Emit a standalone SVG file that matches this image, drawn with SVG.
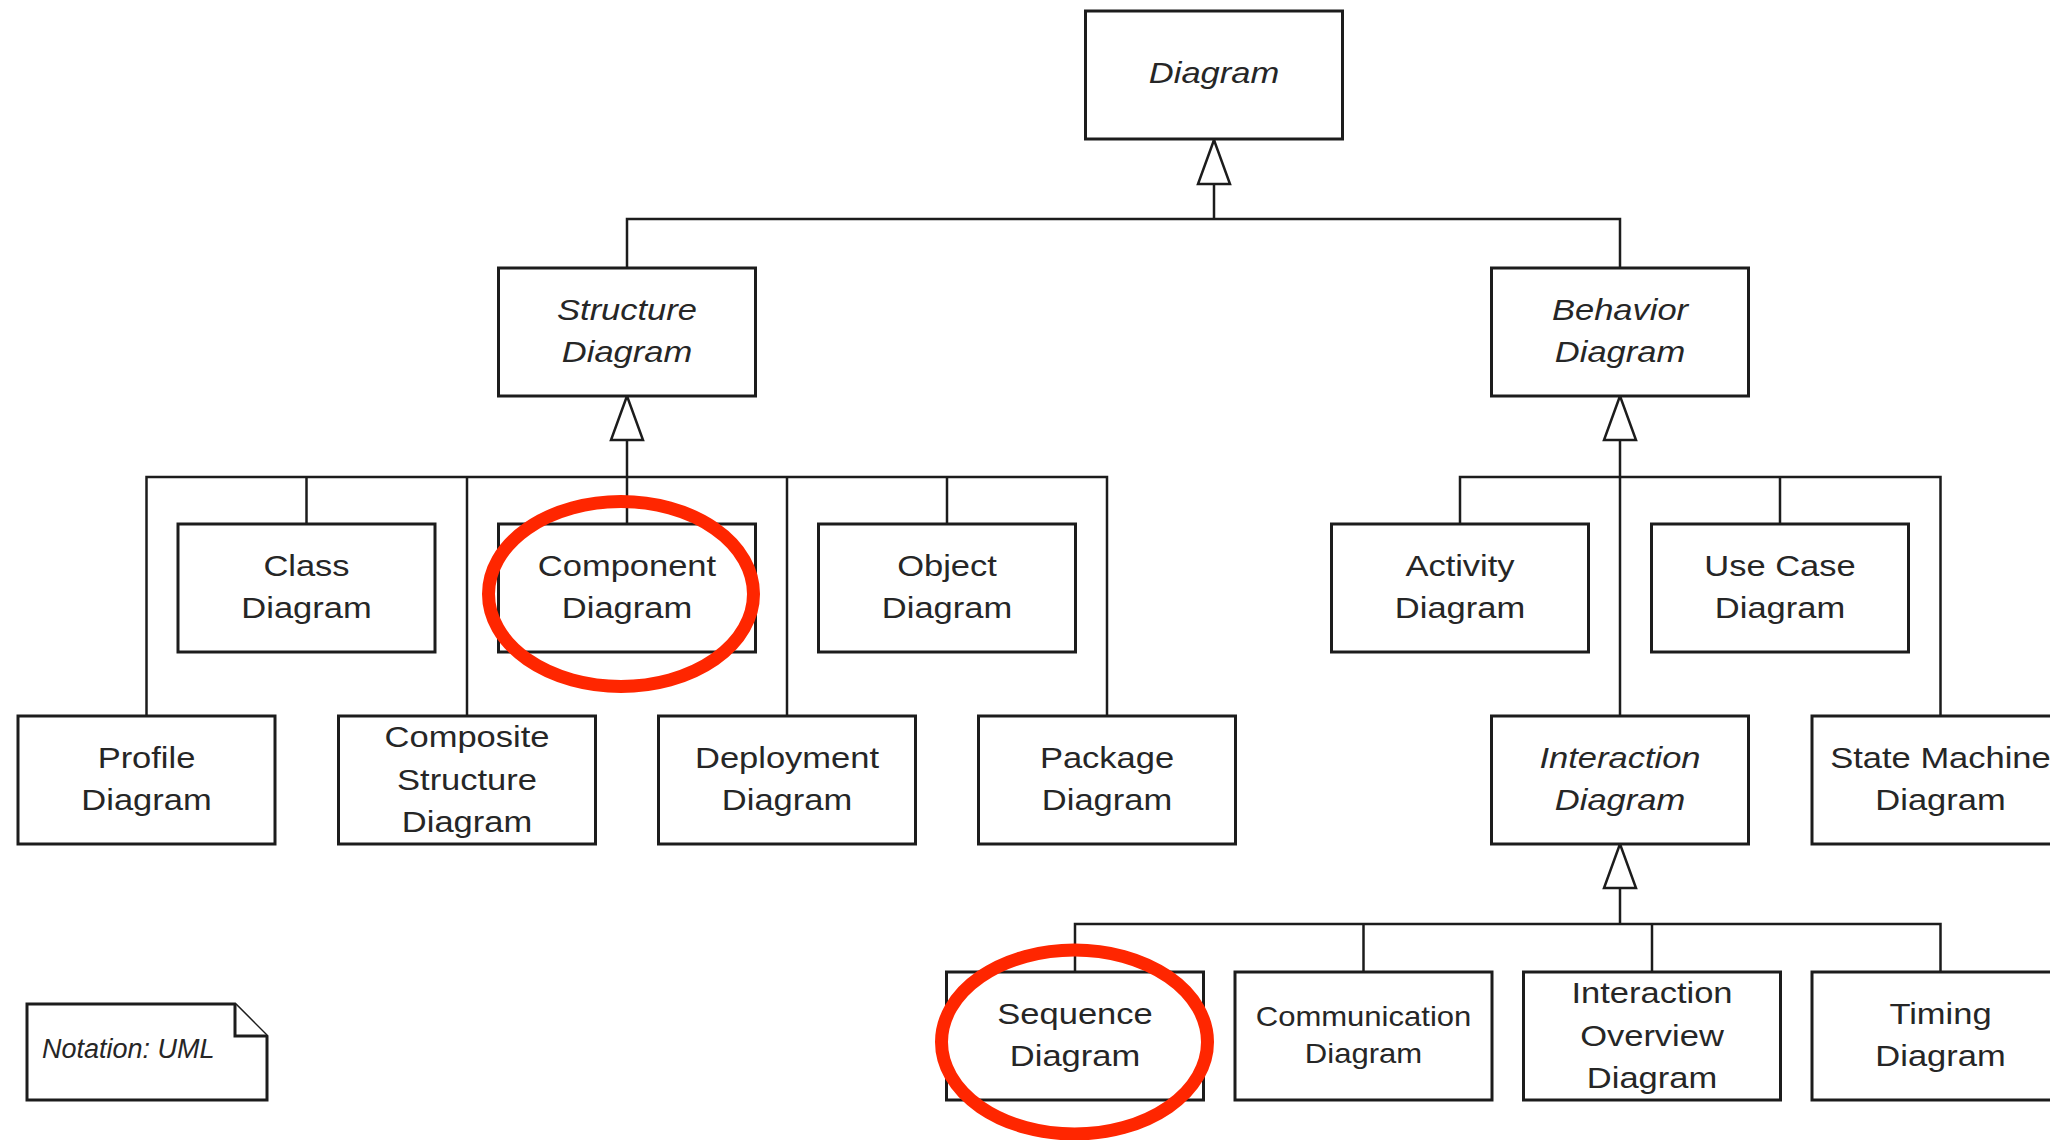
<svg xmlns="http://www.w3.org/2000/svg" width="2050" height="1140" viewBox="0 0 2050 1140">
  <style>
    .box { fill: #ffffff; stroke: #1c1c1c; stroke-width: 3; }
    .lbl { font-family: "Liberation Sans", Arial, sans-serif; font-size: 30px; fill: #262626; text-anchor: middle; transform: scale(1.15, 1); }
    .abs { font-style: italic; }
    .small { font-size: 27px; }
    .wire { fill: none; stroke: #1c1c1c; stroke-width: 2.5; }
    .gen { fill: none; stroke: #1c1c1c; stroke-width: 2.5; marker-end: url(#hollow); }
    .note { fill: #ffffff; stroke: #1c1c1c; stroke-width: 3; stroke-linejoin: miter; }
    .noteText { font-family: "Liberation Sans", Arial, sans-serif; font-size: 27px; font-style: italic; fill: #262626; }
    .mark { fill: none; stroke: #ff2600; stroke-width: 13; }
  </style>
  <defs>
    <!-- hollow triangle for UML generalization -->
    <marker id="hollow" viewBox="-2 -19 49 38" refX="44" refY="0" markerWidth="49" markerHeight="38" markerUnits="userSpaceOnUse" orient="auto">
      <path d="M44,0 L0,-16 L0,16 Z" fill="#ffffff" stroke="#1c1c1c" stroke-width="2.5" stroke-linejoin="miter"/>
    </marker>
  </defs>

  <rect x="0" y="0" width="2050" height="1140" fill="#ffffff"/>

  <!-- connectors -->
  <g id="connectors">
    <!-- Diagram generalizations -->
    <path class="wire" d="M627,268 V219 H1620 V268"/>
    <path class="gen" d="M1214,219 V140"/>
    <!-- Structure Diagram generalizations -->
    <path class="wire" d="M146.5,716 V477 H1107 V716"/>
    <path class="wire" d="M306.5,524 V477"/>
    <path class="wire" d="M467,716 V477"/>
    <path class="wire" d="M627,524 V477"/>
    <path class="wire" d="M787,716 V477"/>
    <path class="wire" d="M947,524 V477"/>
    <path class="gen" d="M627,477 V396"/>
    <!-- Behavior Diagram generalizations -->
    <path class="wire" d="M1460,524 V477 H1940.5 V716"/>
    <path class="wire" d="M1780,524 V477"/>
    <path class="gen" d="M1620,716 V396"/>
    <!-- Interaction Diagram generalizations -->
    <path class="wire" d="M1075,972 V924 H1940.5 V972"/>
    <path class="wire" d="M1363.5,972 V924"/>
    <path class="wire" d="M1652,972 V924"/>
    <path class="gen" d="M1620,924 V844"/>
  </g>

  <!-- nodes -->
  <g id="diagram" transform="translate(1214,75)">
    <rect class="box" x="-128.5" y="-64" width="257" height="128"/>
    <text class="lbl abs"><tspan x="0" y="8">Diagram</tspan></text>
  </g>
  <g id="structure-diagram" transform="translate(627,332)">
    <rect class="box" x="-128.5" y="-64" width="257" height="128"/>
    <text class="lbl abs"><tspan x="0" y="-12">Structure</tspan><tspan x="0" y="30">Diagram</tspan></text>
  </g>
  <g id="behavior-diagram" transform="translate(1620,332)">
    <rect class="box" x="-128.5" y="-64" width="257" height="128"/>
    <text class="lbl abs"><tspan x="0" y="-12">Behavior</tspan><tspan x="0" y="30">Diagram</tspan></text>
  </g>

  <g id="class-diagram" transform="translate(306.5,588)">
    <rect class="box" x="-128.5" y="-64" width="257" height="128"/>
    <text class="lbl"><tspan x="0" y="-12">Class</tspan><tspan x="0" y="30">Diagram</tspan></text>
  </g>
  <g id="component-diagram" transform="translate(627,588)">
    <rect class="box" x="-128.5" y="-64" width="257" height="128"/>
    <text class="lbl"><tspan x="0" y="-12">Component</tspan><tspan x="0" y="30">Diagram</tspan></text>
  </g>
  <g id="object-diagram" transform="translate(947,588)">
    <rect class="box" x="-128.5" y="-64" width="257" height="128"/>
    <text class="lbl"><tspan x="0" y="-12">Object</tspan><tspan x="0" y="30">Diagram</tspan></text>
  </g>
  <g id="profile-diagram" transform="translate(146.5,780)">
    <rect class="box" x="-128.5" y="-64" width="257" height="128"/>
    <text class="lbl"><tspan x="0" y="-12">Profile</tspan><tspan x="0" y="30">Diagram</tspan></text>
  </g>
  <g id="composite-structure-diagram" transform="translate(467,780)">
    <rect class="box" x="-128.5" y="-64" width="257" height="128"/>
    <text class="lbl"><tspan x="0" y="-33">Composite</tspan><tspan x="0" y="10">Structure</tspan><tspan x="0" y="52">Diagram</tspan></text>
  </g>
  <g id="deployment-diagram" transform="translate(787,780)">
    <rect class="box" x="-128.5" y="-64" width="257" height="128"/>
    <text class="lbl"><tspan x="0" y="-12">Deployment</tspan><tspan x="0" y="30">Diagram</tspan></text>
  </g>
  <g id="package-diagram" transform="translate(1107,780)">
    <rect class="box" x="-128.5" y="-64" width="257" height="128"/>
    <text class="lbl"><tspan x="0" y="-12">Package</tspan><tspan x="0" y="30">Diagram</tspan></text>
  </g>

  <g id="activity-diagram" transform="translate(1460,588)">
    <rect class="box" x="-128.5" y="-64" width="257" height="128"/>
    <text class="lbl"><tspan x="0" y="-12">Activity</tspan><tspan x="0" y="30">Diagram</tspan></text>
  </g>
  <g id="use-case-diagram" transform="translate(1780,588)">
    <rect class="box" x="-128.5" y="-64" width="257" height="128"/>
    <text class="lbl"><tspan x="0" y="-12">Use Case</tspan><tspan x="0" y="30">Diagram</tspan></text>
  </g>
  <g id="interaction-diagram" transform="translate(1620,780)">
    <rect class="box" x="-128.5" y="-64" width="257" height="128"/>
    <text class="lbl abs"><tspan x="0" y="-12">Interaction</tspan><tspan x="0" y="30">Diagram</tspan></text>
  </g>
  <g id="state-machine-diagram" transform="translate(1940.5,780)">
    <rect class="box" x="-128.5" y="-64" width="257" height="128"/>
    <text class="lbl"><tspan x="0" y="-12">State Machine</tspan><tspan x="0" y="30">Diagram</tspan></text>
  </g>

  <g id="sequence-diagram" transform="translate(1075,1036)">
    <rect class="box" x="-128.5" y="-64" width="257" height="128"/>
    <text class="lbl"><tspan x="0" y="-12">Sequence</tspan><tspan x="0" y="30">Diagram</tspan></text>
  </g>
  <g id="communication-diagram" transform="translate(1363.5,1036)">
    <rect class="box" x="-128.5" y="-64" width="257" height="128"/>
    <text class="lbl small"><tspan x="0" y="-10">Communication</tspan><tspan x="0" y="27">Diagram</tspan></text>
  </g>
  <g id="interaction-overview-diagram" transform="translate(1652,1036)">
    <rect class="box" x="-128.5" y="-64" width="257" height="128"/>
    <text class="lbl"><tspan x="0" y="-33">Interaction</tspan><tspan x="0" y="10">Overview</tspan><tspan x="0" y="52">Diagram</tspan></text>
  </g>
  <g id="timing-diagram" transform="translate(1940.5,1036)">
    <rect class="box" x="-128.5" y="-64" width="257" height="128"/>
    <text class="lbl"><tspan x="0" y="-12">Timing</tspan><tspan x="0" y="30">Diagram</tspan></text>
  </g>

  <!-- notation note -->
  <g id="notation-note">
    <path class="note" d="M27,1004 H235 L267,1036 V1100 H27 Z"/>
    <path class="note" d="M235,1004 V1036 H267"/>
    <text class="noteText" x="42" y="1058">Notation: UML</text>
  </g>

  <!-- red hand-drawn highlights -->
  <g id="highlights">
    <ellipse class="mark" cx="621" cy="594" rx="132.5" ry="92.5"/>
    <ellipse class="mark" cx="1074.5" cy="1042" rx="133" ry="92"/>
  </g>
</svg>
